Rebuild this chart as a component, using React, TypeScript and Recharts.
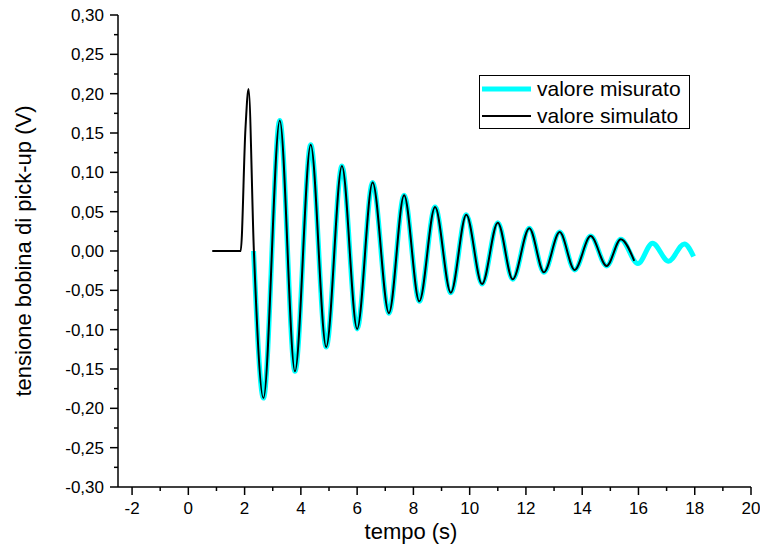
import { LineChart, Line, XAxis, YAxis, Legend } from "recharts";

// valori (estremi e punti di attacco delle curve)
const measuredTime = [
  2.32, 2.67, 3.25, 3.79, 4.35, 4.9, 5.46, 6.0, 6.55, 7.13, 7.67, 8.21, 8.77, 9.33, 9.88,
  10.44, 11.0, 11.53, 12.12, 12.64, 13.2, 13.73, 14.3, 14.87, 15.37, 15.98, 16.5, 17.07, 17.63, 17.96,
];
const measuredVoltage = [
  0.0, -0.187, 0.166, -0.153, 0.135, -0.122, 0.108, -0.099, 0.087, -0.079, 0.071, -0.064, 0.056, -0.053, 0.046,
  -0.042, 0.036, -0.036, 0.029, -0.027, 0.024, -0.024, 0.019, -0.019, 0.015, -0.016, 0.01, -0.013, 0.009, -0.007,
];

const simulatedTime = [
  0.85, 1.86, 2.03, 2.14, 2.33, 2.67, 3.25, 3.79, 4.35, 4.9, 5.46, 6.0, 6.55, 7.13, 7.67, 8.21, 8.77, 9.33, 9.88,
  10.44, 11.0, 11.53, 12.12, 12.64, 13.2, 13.73, 14.3, 14.87, 15.37, 15.85,
];
const simulatedVoltage = [
  0.0, 0.0, 0.155, 0.206, 0.0, -0.187, 0.166, -0.153, 0.135, -0.122, 0.108, -0.099, 0.087, -0.079, 0.071, -0.064,
  0.056, -0.053, 0.046, -0.042, 0.036, -0.036, 0.029, -0.027, 0.024, -0.024, 0.019, -0.019, 0.015, -0.0125,
];

const xTicks = [-2, -1, 0, 1, 2, 3, 4, 5, 6, 7, 8, 9, 10, 11, 12, 13, 14, 15, 16, 17, 18, 19, 20];
const yTicks = [
  -0.3, -0.275, -0.25, -0.225, -0.2, -0.175, -0.15, -0.125, -0.1, -0.075, -0.05, -0.025, 0,
  0.025, 0.05, 0.075, 0.1, 0.125, 0.15, 0.175, 0.2, 0.225, 0.25, 0.275, 0.3,
];

const FONT = '"Liberation Sans", Arial, Helvetica, sans-serif';

const measured = measuredTime.map((t, i) => ({ t, v: measuredVoltage[i] }));
const simulated = simulatedTime.map((t, i) => ({ t, v: simulatedVoltage[i] }));

const isMajor = (v: number, step: number) => Math.abs(v / step - Math.round(v / step)) < 1e-6;

const XTick = ({ x, y, payload }: any) => {
  const major = isMajor(payload.value, 2);
  return (
    <g>
      <line x1={x} x2={x} y1={y} y2={y + (major ? 8 : 4)} stroke="#000" strokeWidth={1.5} />
      {major && (
        <text x={x} y={y + 27} textAnchor="middle" fontSize={17} fontFamily={FONT} fill="#000">
          {payload.value}
        </text>
      )}
    </g>
  );
};

const YTick = ({ x, y, payload }: any) => {
  const major = isMajor(payload.value, 0.05);
  return (
    <g>
      <line x1={x} x2={x - (major ? 8 : 4)} y1={y} y2={y} stroke="#000" strokeWidth={1.5} />
      {major && (
        <text x={x - 14} y={y + 6} textAnchor="end" fontSize={17} fontFamily={FONT} fill="#000">
          {payload.value.toFixed(2).replace(".", ",")}
        </text>
      )}
    </g>
  );
};

const LegendBox = () => (
  <div style={{ width: 211, height: 54, border: "1px solid #000", boxSizing: "border-box", background: "#fff" }}>
    <svg width={209} height={52} style={{ display: "block" }}>
      <line x1={2} x2={51} y1={13} y2={13} stroke="#00FFFF" strokeWidth={5} />
      <text x={57} y={20} fontSize={21} fontFamily={FONT} fill="#000">valore misurato</text>
      <line x1={2} x2={51} y1={40} y2={40} stroke="#000" strokeWidth={2} />
      <text x={57} y={47} fontSize={21} fontFamily={FONT} fill="#000">valore simulato</text>
    </svg>
  </div>
);

export default function App() {
  return (
    <div style={{ position: "absolute", left: 0, top: 0, width: 760, height: 546, background: "#fff" }}>
      <LineChart width={760} height={546} margin={{ top: 15, right: 9, bottom: 0, left: 0 }}>
        <XAxis
          type="number"
          dataKey="t"
          domain={[-2.5, 20]}
          ticks={xTicks}
          allowDataOverflow
          height={59}
          tickSize={0}
          tickMargin={0}
          tickLine={false}
          axisLine={{ stroke: "#000", strokeWidth: 1.5 }}
          tick={<XTick />}
          interval={0}
          label={() => (
            <text x={411} y={539} textAnchor="middle" fontSize={22} fontFamily={FONT} fill="#000">
              tempo (s)
            </text>
          )}
        />
        <YAxis
          type="number"
          domain={[-0.3, 0.3]}
          ticks={yTicks}
          allowDataOverflow
          width={118}
          tickSize={0}
          tickMargin={0}
          tickLine={false}
          axisLine={{ stroke: "#000", strokeWidth: 1.5 }}
          tick={<YTick />}
          interval={0}
          label={() => (
            <text
              x={31}
              y={251}
              transform="rotate(-90 31 251)"
              textAnchor="middle"
              fontSize={22}
              fontFamily={FONT}
              fill="#000"
            >
              tensione bobina di pick-up (V)
            </text>
          )}
        />
        <Legend
          layout="vertical"
          align="center"
          verticalAlign="middle"
          wrapperStyle={{ left: 479, top: 75, width: 211, height: 54 }}
          content={() => <LegendBox />}
        />
        <Line
          data={measured}
          dataKey="v"
          name="valore misurato"
          type="monotone"
          stroke="#00FFFF"
          strokeWidth={5}
          dot={false}
          activeDot={false}
          isAnimationActive={false}
        />
        <Line
          data={simulated}
          dataKey="v"
          name="valore simulato"
          type="monotone"
          stroke="#000"
          strokeWidth={2}
          dot={false}
          activeDot={false}
          isAnimationActive={false}
        />
      </LineChart>
    </div>
  );
}
